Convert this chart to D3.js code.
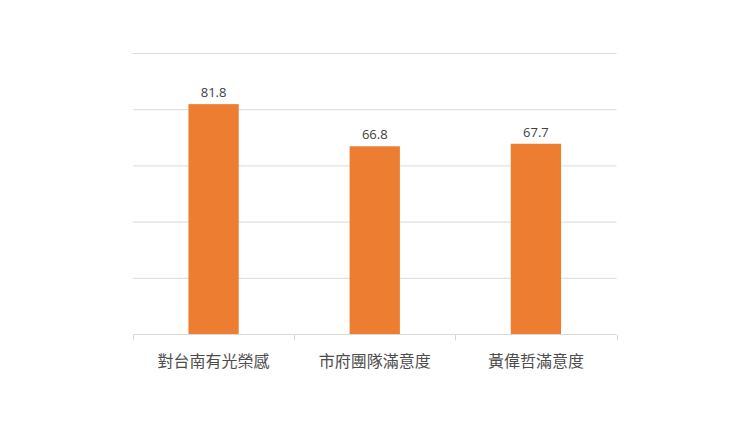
<!DOCTYPE html>
<html>
<head>
<meta charset="utf-8">
<script src="https://cdn.jsdelivr.net/npm/d3@7"></script>
<style>
  body { margin: 0; background: #fff; }
  svg { display: block; }
</style>
</head>
<body>
<div id="chart"></div>
<script>
// chart data
var categories = ['對台南有光榮感', '市府團隊滿意度', '黃偉哲滿意度'];
var values = [81.8, 66.8, 67.7];
var yTicks = [0, 20, 40, 60, 80, 100];

var width = 750, height = 422;
var margin = {left: 133, right: 133.5, top: 53, bottom: 88};

var svg = d3.select('#chart').append('svg')
    .attr('width', width)
    .attr('height', height);

var x = d3.scaleBand()
    .domain(categories)
    .range([margin.left, width - margin.right])
    .padding(0);

var y = d3.scaleLinear()
    .domain([0, 100])
    .range([height - margin.bottom, margin.top]);

//gridlines
svg.append('g')
    .selectAll('line')
    .data(yTicks.slice(1))
    .enter().append('line')
    .attr('x1', margin.left)
    .attr('x2', width - margin.right)
    .attr('y1', function(d) { return y(d) + 0.5; })
    .attr('y2', function(d) { return y(d) + 0.5; })
    .attr('stroke', '#d9d9d9')
    .attr('stroke-width', 1);

//bars
var barFrac = 0.312;
svg.append('g')
    .selectAll('rect')
    .data(values)
    .enter().append('rect')
    .attr('x', function(d, i) { return x(categories[i]) + x.bandwidth() * (1 - barFrac) / 2; })
    .attr('width', x.bandwidth() * barFrac)
    .attr('y', function(d) { return y(d); })
    .attr('height', function(d) { return y(0) - y(d); })
    .attr('fill', '#ed7d31');

//value labels
svg.append('g')
    .selectAll('text')
    .data(values)
    .enter().append('text')
    .attr('x', function(d, i) { return x(categories[i]) + x.bandwidth() / 2; })
    .attr('y', function(d) { return y(d) - 7; })
    .attr('text-anchor', 'middle')
    .style('font-family', '"Open Sans", "Liberation Sans", sans-serif')
    .style('font-size', '13px')
    .style('fill', '#404040')
    .text(function(d) { return d.toFixed(1); });

//x axis with ticks at band edges
var axisY = y(0) + 0.5;
var ax = svg.append('g');
ax.append('line')
    .attr('x1', margin.left)
    .attr('x2', width - margin.right)
    .attr('y1', axisY)
    .attr('y2', axisY)
    .attr('stroke', '#d9d9d9');

var edges = categories.map(function(c) { return x(c); });
edges.push(x(categories[categories.length - 1]) + x.bandwidth());
ax.selectAll('.tick')
    .data(edges)
    .enter().append('line')
    .attr('class', 'tick')
    .attr('x1', function(d) { return Math.round(d) + 0.5; })
    .attr('x2', function(d) { return Math.round(d) + 0.5; })
    .attr('y1', axisY)
    .attr('y2', axisY + 6)
    .attr('stroke', '#d9d9d9');

ax.selectAll('.cat')
    .data(categories)
    .enter().append('text')
    .attr('class', 'cat')
    .attr('x', function(d) { return x(d) + x.bandwidth() / 2; })
    .attr('y', axisY + 32)
    .attr('text-anchor', 'middle')
    .style('font-family', '"Noto Sans CJK TC", sans-serif')
    .style('font-size', '16px')
    .style('fill', '#4d4d4d')
    .text(function(d) { return d; });
</script>
</body>
</html>
